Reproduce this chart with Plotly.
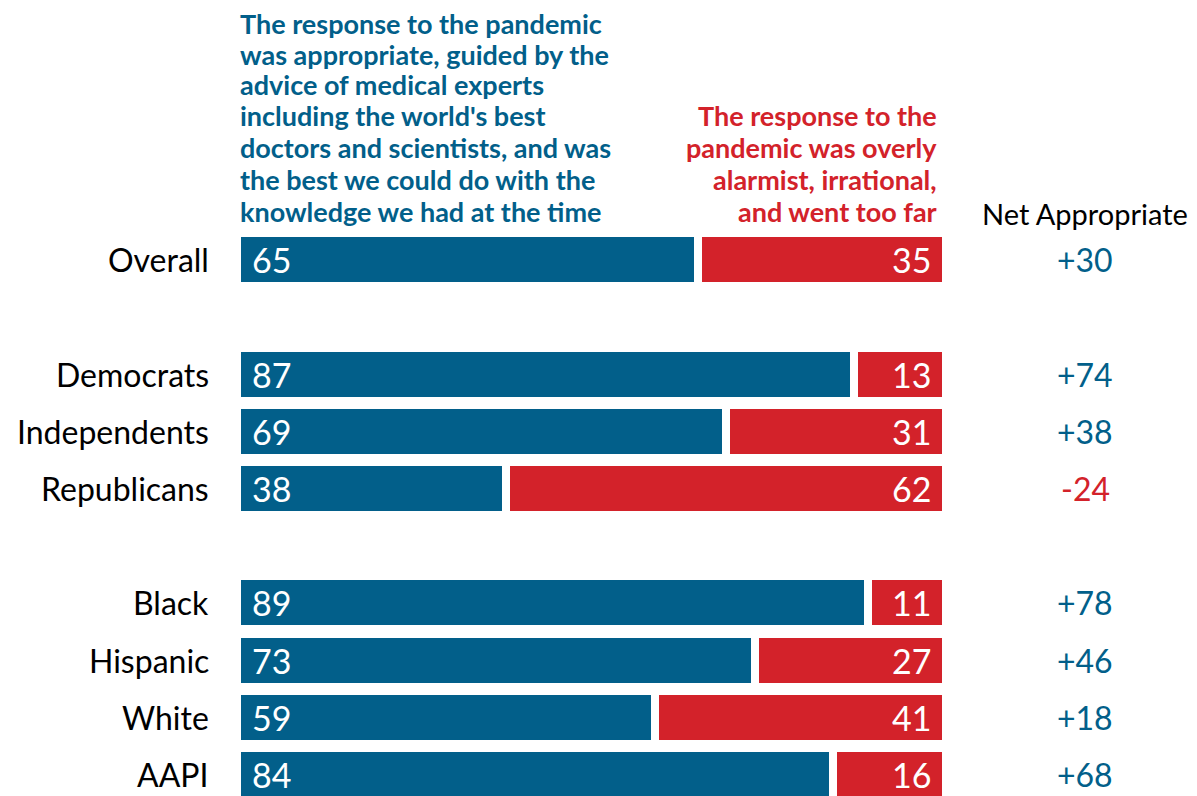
import plotly.graph_objects as go

categories = ["Overall", "Democrats", "Independents", "Republicans", "Black", "Hispanic", "White", "AAPI"]
row_pos = [0, 2, 3, 4, 6, 7, 8, 9]
appropriate = [65, 87, 69, 38, 89, 73, 59, 84]
alarmist = [35, 13, 31, 62, 11, 27, 41, 16]
net_labels = ["+30", "+74", "+38", "-24", "+78", "+46", "+18", "+68"]

blue_header = ["The response to the pandemic", "was appropriate, guided by the", "advice of medical experts",
               "including the world's best", "doctors and scientists, and was", "the best we could do with the",
               "knowledge we had at the time"]
red_header = ["The response to the", "pandemic was overly", "alarmist, irrational,", "and went too far"]

BLUE = "#025f8a"
RED = "#d3222a"
FONT = "Lato"

W, H = 1189, 788          # page has an 8px body margin
T, B = 223, 0
PLOT_TOP_PX = 231
PLOT_H = H - T - B
ROW_PX = 57.2


def paper_y(px):
    return 1 - (px - PLOT_TOP_PX) / PLOT_H


bar_width = (45 + 8) / ROW_PX

fig = go.Figure()
fig.add_trace(go.Bar(
    y=row_pos, x=appropriate, orientation="h",
    marker=dict(color=BLUE, line=dict(width=8, color="white")), width=bar_width,
    hoverinfo="skip", showlegend=False,
))
fig.add_trace(go.Bar(
    y=row_pos, x=alarmist, orientation="h",
    marker=dict(color=RED, line=dict(width=8, color="white")), width=bar_width,
    hoverinfo="skip", showlegend=False,
))

annotations = []
for cat, pos, a, r, net in zip(categories, row_pos, appropriate, alarmist, net_labels):
    annotations.append(dict(
        x=0, xref="paper", y=pos, yref="y", text=cat, showarrow=False,
        xanchor="right", yanchor="middle", xshift=-26,
        font=dict(size=32, color="black", family=FONT),
    ))
    annotations.append(dict(
        x=0, xref="x", y=pos, yref="y", text=str(a), showarrow=False,
        xanchor="left", yanchor="middle", xshift=13,
        font=dict(size=34, color="white", family=FONT),
    ))
    annotations.append(dict(
        x=a + r, xref="x", y=pos, yref="y", text=str(r), showarrow=False,
        xanchor="right", yanchor="middle", xshift=-13,
        font=dict(size=34, color="white", family=FONT),
    ))
    annotations.append(dict(
        x=1, xref="paper", y=pos, yref="y", text=net, showarrow=False,
        xanchor="center", yanchor="middle", xshift=139,
        font=dict(size=32, color=RED if net.startswith("-") else BLUE, family=FONT),
    ))

blue_centers = [23, 54, 85, 116, 148, 180, 212]
for line, cy in zip(blue_header, blue_centers):
    annotations.append(dict(
        x=0, xref="paper", y=paper_y(cy), yref="paper", text="<b>" + line + "</b>",
        showarrow=False, xanchor="left", yanchor="middle", xshift=2, borderpad=0,
        font=dict(size=27, color=BLUE, family=FONT),
    ))
red_centers = [116, 148, 180, 212]
for line, cy in zip(red_header, red_centers):
    annotations.append(dict(
        x=1, xref="paper", y=paper_y(cy), yref="paper", text="<b>" + line + "</b>",
        showarrow=False, xanchor="right", yanchor="middle", xshift=-8, borderpad=0,
        font=dict(size=27, color=RED, family=FONT),
    ))
annotations.append(dict(
    x=1, xref="paper", y=paper_y(213), yref="paper", text="Net Appropriate",
    showarrow=False, xanchor="center", yanchor="middle", xshift=139,
    font=dict(size=29, color="black", family=FONT),
))

fig.update_layout(
    width=W, height=H,
    margin=dict(l=229, r=251, t=T, b=B),
    paper_bgcolor="white", plot_bgcolor="white",
    barmode="stack",
    xaxis=dict(range=[0, 100], visible=False, fixedrange=True),
    yaxis=dict(range=[-0.5 + PLOT_H / ROW_PX, -0.5], visible=False, fixedrange=True),
    annotations=annotations,
    font=dict(family=FONT),
)

fig.write_html("out.html")
